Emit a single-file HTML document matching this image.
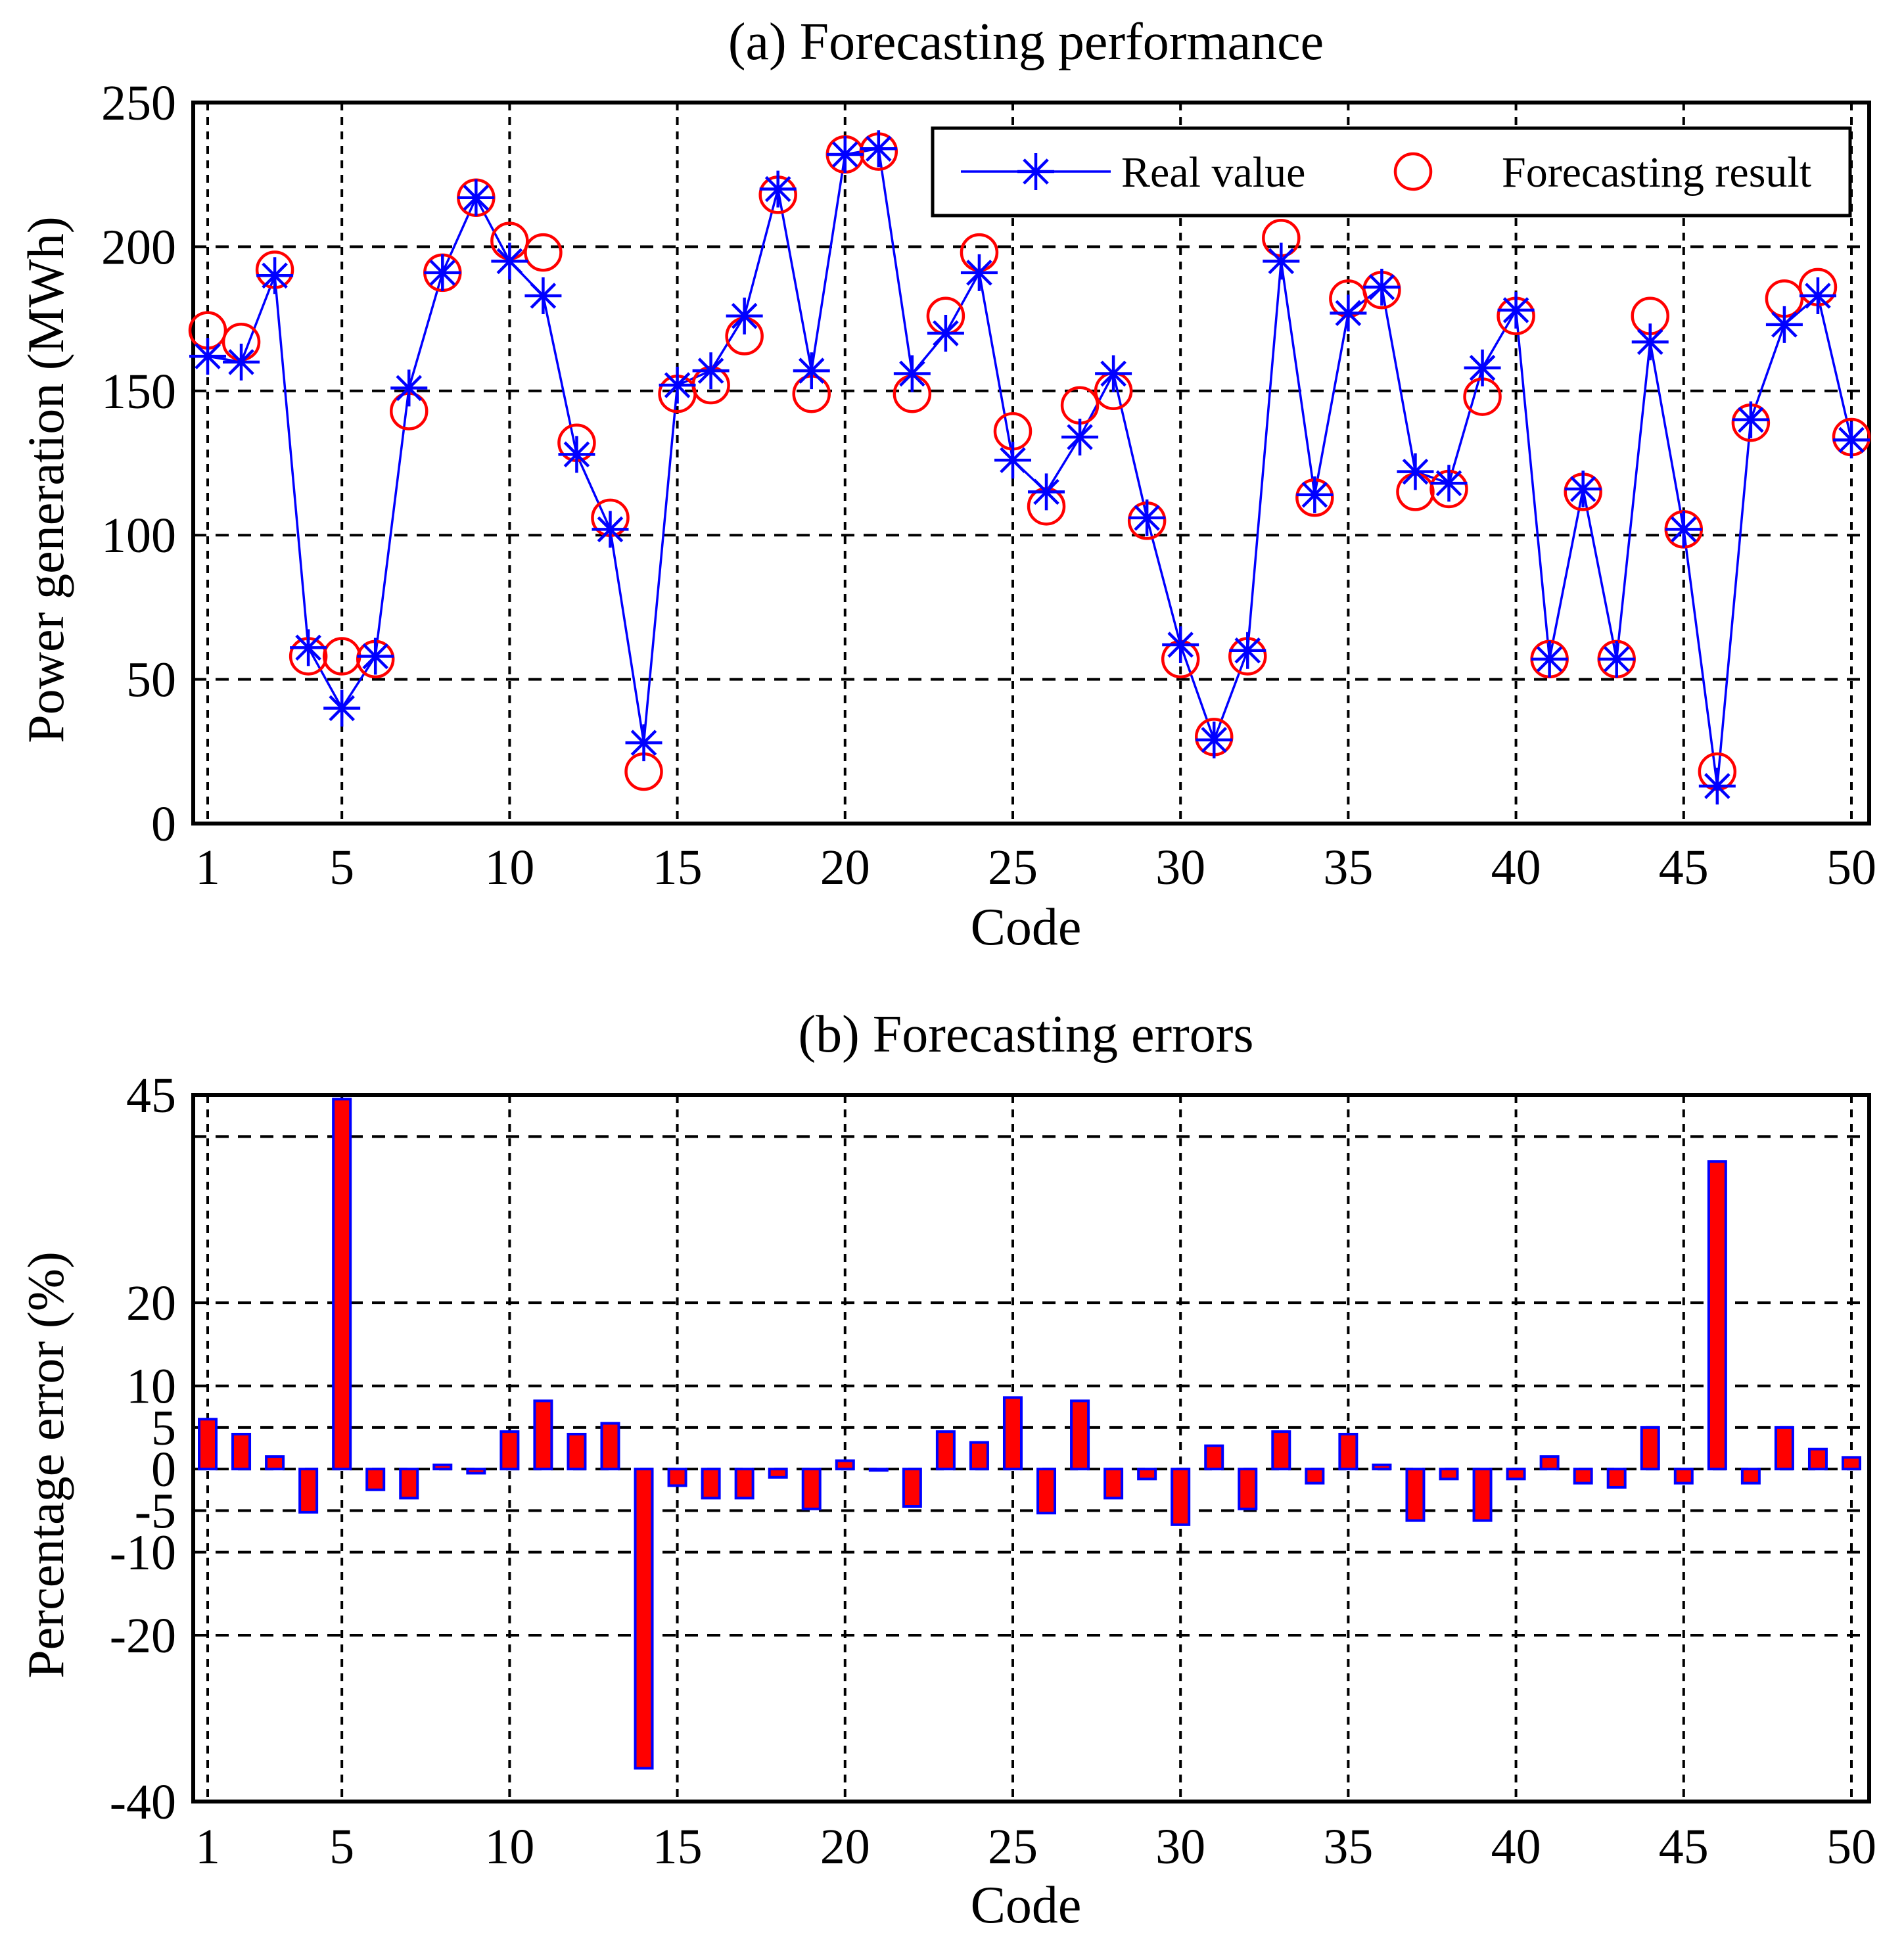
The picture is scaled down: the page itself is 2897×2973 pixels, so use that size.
<!DOCTYPE html>
<html><head><meta charset="utf-8"><style>
html,body{margin:0;padding:0;background:#fff}
svg{display:block}
text{font-family:"Liberation Serif",serif;fill:#000}
</style></head><body>
<svg id="chart" width="2897" height="2973" viewBox="0 0 2897 2973" xmlns="http://www.w3.org/2000/svg">
<g id="topPanel"></g>
<g id="botPanel"></g>
</svg>
<script>
const codes = Array.from({length:50},(_,i)=>i+1);
const realValues = [162,160,190,61,40,58,151,191,217,195,183,128,102,28,152,157,176,220,157,232,234,156,170,191,126,115,134,156,106,62,29,60,195,114,177,186,122,118,158,178,57,116,57,167,102,13,140,173,183,133];
const forecastValues = [171,167,192,58,58,57,143,191,217,202,198,132,106,18,149,152,169,218,149,232,233,149,176,198,136,110,145,150,105,57,30,58,203,113,182,185,115,116,148,176,57,115,57,176,102,18,139,182,186,134];
const errorValues = [6,4.2,1.5,-5.2,44.5,-2.5,-3.5,0.5,-0.5,4.5,8.2,4.2,5.5,-36,-2,-3.5,-3.5,-1,-4.8,1,0,-4.5,4.5,3.2,8.6,-5.3,8.2,-3.5,-1.2,-6.7,2.8,-4.8,4.5,-1.7,4.2,0.5,-6.2,-1.2,-6.2,-1.2,1.5,-1.7,-2.2,5,-1.7,37,-1.7,5,2.4,1.4];
const xTicks = [1,5,10,15,20,25,30,35,40,45,50];
const topYTicks = [0,50,100,150,200,250];
const botYTicks = [-40,-20,-10,-5,0,5,10,20,45];
const botGrid = [-20,-10,-5,0,5,10,20,40];

const NS="http://www.w3.org/2000/svg";
function mk(parent,tag,attrs,txt){const e=document.createElementNS(NS,tag);for(const k in attrs)e.setAttribute(k,attrs[k]);if(txt!==undefined)e.textContent=txt;parent.appendChild(e);return e;}
const L=294,R=2844;
const xS=v=>316+(v-1)*(2817-316)/49;
const TF=76, HF=80;

// ---------- TOP ----------
const topG=document.getElementById('topPanel');
const T1=156,B1=1253;
const yT=v=>B1-(v/250)*(B1-T1);
let t=mk(topG,'text',{x:1561,y:90,'font-size':HF,'text-anchor':'middle'},'(a) Forecasting performance');


for(const v of [50,100,150,200]){let g=mk(topG,'line',{x1:L,x2:R,y1:yT(v),y2:yT(v),stroke:'#000','stroke-width':4,'stroke-dasharray':'20 14'});}
for(const v of xTicks){let g=mk(topG,'line',{x1:xS(v),x2:xS(v),y1:T1,y2:B1,stroke:'#000','stroke-width':4,'stroke-dasharray':'12 10'});}
let ax=mk(topG,'rect',{x:L,y:T1,width:R-L,height:B1-T1,fill:'none',stroke:'#000','stroke-width':6});


for(const v of topYTicks){let e=mk(topG,'text',{x:268,y:yT(v)+26,'font-size':TF,'text-anchor':'end'},String(v));}
for(const v of xTicks){let e=mk(topG,'text',{x:xS(v),y:1345,'font-size':TF,'text-anchor':'middle'},String(v));}
t=mk(topG,'text',{x:1561,y:1437,'font-size':HF,'text-anchor':'middle'},'Code');


t=mk(topG,'text',{x:0,y:0,'font-size':78,'text-anchor':'middle',transform:'translate(96,730) rotate(-90)'},'Power generation (MWh)');


let pts=codes.map((c,i)=>xS(c)+','+yT(realValues[i])).join(' ');
let pl=mk(topG,'polyline',{points:pts,fill:'none',stroke:'#0000ff','stroke-width':3.5});


function star(p,cx,cy,s,name){const g=mk(p,'g',{stroke:'#0000ff','stroke-width':4.5});
 
 
 mk(g,'line',{x1:cx-s,x2:cx+s,y1:cy,y2:cy});mk(g,'line',{x1:cx,x2:cx,y1:cy-s,y2:cy+s});
 const d=s*0.65;mk(g,'line',{x1:cx-d,x2:cx+d,y1:cy-d,y2:cy+d});mk(g,'line',{x1:cx-d,x2:cx+d,y1:cy+d,y2:cy-d});return g;}
codes.forEach((c,i)=>{let ci=mk(topG,'circle',{cx:xS(c),cy:yT(forecastValues[i]),r:27,fill:'none',stroke:'#ff0000','stroke-width':4.5});
 
 });
codes.forEach((c,i)=>star(topG,xS(c),yT(realValues[i]),28,'real-value-point'));
const lg=mk(topG,'g',{});


mk(lg,'rect',{x:1419,y:195,width:1396,height:133,fill:'#fff',stroke:'#000','stroke-width':5});
let le=mk(lg,'line',{x1:1462,x2:1690,y1:261,y2:261,stroke:'#0000ff','stroke-width':3.5});


star(lg,1576,261,28,'legend-real-marker');
t=mk(lg,'text',{x:1706,y:284,'font-size':66},'Real value');


let lc=mk(lg,'circle',{cx:2150,cy:261,r:27,fill:'none',stroke:'#ff0000','stroke-width':4.5});


t=mk(lg,'text',{x:2285,y:284,'font-size':66},'Forecasting result');



// ---------- BOTTOM ----------
const botG=document.getElementById('botPanel');
const T2=1666,B2=2741;
const yB=v=>B2-((v+40)/85)*(B2-T2);
t=mk(botG,'text',{x:1561,y:1600,'font-size':HF,'text-anchor':'middle'},'(b) Forecasting errors');


for(const v of botGrid){let g=mk(botG,'line',{x1:L,x2:R,y1:yB(v),y2:yB(v),stroke:'#000','stroke-width':4,'stroke-dasharray':'20 14'});}
for(const v of xTicks){let g=mk(botG,'line',{x1:xS(v),x2:xS(v),y1:T2,y2:B2,stroke:'#000','stroke-width':4,'stroke-dasharray':'12 10'});}
codes.forEach((c,i)=>{const v=errorValues[i];const y0=yB(0),y1=yB(v);
 let b=mk(botG,'rect',{x:xS(c)-13,y:Math.min(y0,y1),width:26,height:Math.max(2,Math.abs(y1-y0)),fill:'#ff0000',stroke:'#0000ff','stroke-width':4});
 
 });
ax=mk(botG,'rect',{x:L,y:T2,width:R-L,height:B2-T2,fill:'none',stroke:'#000','stroke-width':6});


for(const v of botYTicks){let e=mk(botG,'text',{x:268,y:yB(v)+26,'font-size':TF,'text-anchor':'end'},String(v));}
for(const v of xTicks){let e=mk(botG,'text',{x:xS(v),y:2835,'font-size':TF,'text-anchor':'middle'},String(v));}
t=mk(botG,'text',{x:1561,y:2925,'font-size':HF,'text-anchor':'middle'},'Code');


t=mk(botG,'text',{x:0,y:0,'font-size':78,'text-anchor':'middle',transform:'translate(96,2229) rotate(-90)'},'Percentage error (%)');


</script>
</body></html>
